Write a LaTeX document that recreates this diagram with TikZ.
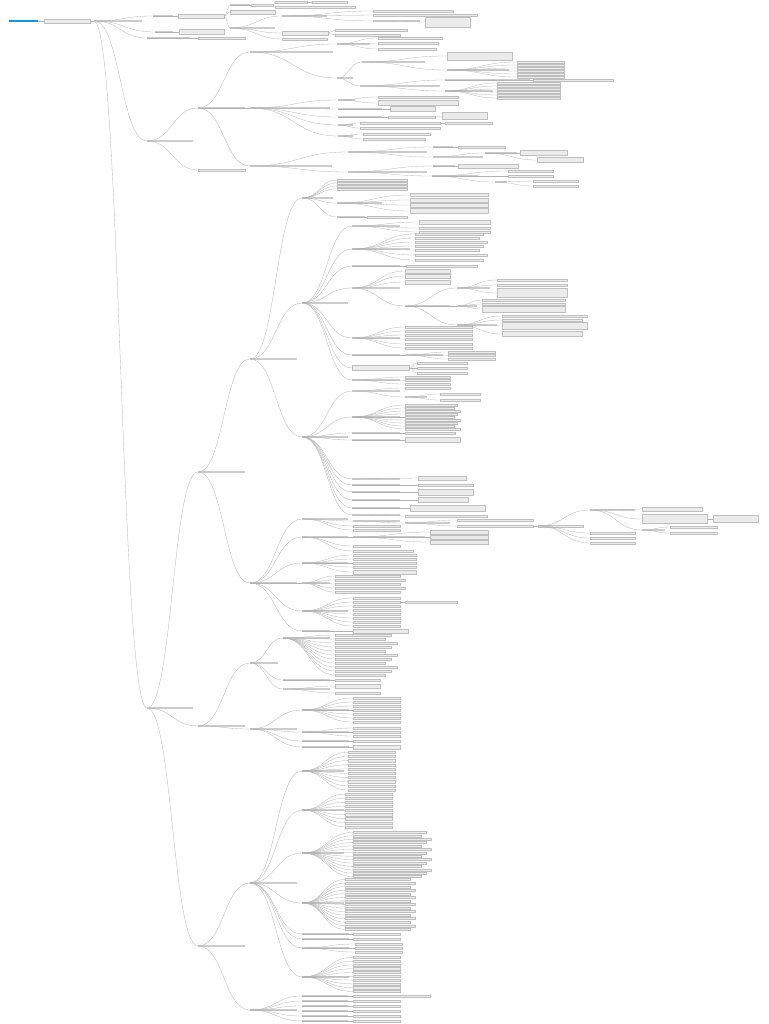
\documentclass[tikz,border=0pt]{standalone}
\usepackage{tikz}
\usetikzlibrary{calc}

\definecolor{rootblue}{RGB}{20,150,220}

\tikzset{
  tnode/.style={rectangle, fill=gray!40, inner sep=0pt, minimum height=1.2pt, anchor=west},
  bnode/.style={rectangle, draw=gray!50, fill=gray!16, line width=0.25pt, inner sep=0pt, minimum height=2.2pt, anchor=west},
  link/.style={draw=gray!60, line width=0.3pt,
    to path={.. controls ($(\tikztostart)!0.5!(\tikztotarget |- \tikztostart)$)
      and ($(\tikztotarget)!0.5!(\tikztostart |- \tikztotarget)$) .. (\tikztotarget)}}
}

\begin{document}
\begin{tikzpicture}[x=1pt, y=-1pt]
\useasboundingbox (0,0) rectangle (768,1024);

% root and hub
\node[rectangle, fill=rootblue, inner sep=0pt, minimum width=29, minimum height=1.8, anchor=west] (root) at (9,21) {};
\node[bnode, minimum width=46, minimum height=4] (hub) at (44,21) {};
\node[tnode, minimum width=48] (main) at (94,21) {};
\draw[link] (root.east) to (hub.west);
\draw[link] (hub.east) to (main.west);

% first level
\node[tnode, minimum width=20] (a) at (153,16) {};
\node[tnode, minimum width=18] (b) at (155,32) {};
\node[tnode, minimum width=43] (c) at (147,38) {};
\node[tnode, minimum width=46] (d) at (147,141) {};
\node[tnode, minimum width=46] (e) at (147,708) {};
\foreach \n in {a,b,c,d,e} \draw[link] (main.west) to (\n.west);

% branch a
\node[bnode, minimum width=46, minimum height=4] (a1) at (178,16) {};
\draw[link] (a.west) to (a1.west);
\node[tnode, minimum width=20] (a11) at (230,5) {};
\node[bnode, minimum width=45, minimum height=4] (a12) at (230,12) {};
\node[tnode, minimum width=45] (a13) at (230,28) {};
\foreach \n in {a11,a12,a13} \draw[link] (a1.east) to (\n.west);
\node[bnode, minimum width=22] (a111) at (251,5) {};
\draw[link] (a11.west) to (a111.west);
\node[bnode, minimum width=32] (a1111) at (275,2) {};
\node[bnode, minimum width=80] (a1112) at (275,7.5) {};
\node[bnode, minimum width=35] (a1113) at (312,2) {};
\draw[link] (a111.east) to (a1111.west);
\draw[link] (a111.east) to (a1112.west);
\draw[link] (a1111.east) to (a1113.west);
\node[tnode, minimum width=45] (a131) at (282,16) {};
\node[bnode, minimum width=46, minimum height=4] (a132) at (282,33) {};
\node[bnode, minimum width=45] (a133) at (282,39) {};
\foreach \n in {a131,a132,a133} \draw[link] (a13.west) to (\n.west);
\node[bnode, minimum width=80] (a1311) at (373,11) {};
\node[bnode, minimum width=104] (a1312) at (373,15) {};
\node[tnode, minimum width=47] (a1313) at (373,21) {};
\foreach \n in {a1311,a1312,a1313} \draw[link] (a131.west) to (\n.west);
\node[bnode, minimum width=45, minimum height=10] (a13131) at (425,22) {};
\draw[link] (a1313.west) to (a13131.west);
\node[bnode, minimum width=72] (a1321) at (335,30) {};
\node[bnode, minimum width=65] (a1322) at (335,35) {};
\draw[link] (a132.east) to (a1321.west);
\draw[link] (a132.east) to (a1322.west);

% branches b and c
\node[bnode, minimum width=45, minimum height=5] (b1) at (179,32) {};
\draw[link] (b.west) to (b1.west);
\node[bnode, minimum width=47] (c1) at (198,38) {};
\draw[link] (c.west) to (c1.west);

% branch d
\node[tnode, minimum width=47] (d1) at (198,108) {};
\node[bnode, minimum width=47] (d2) at (198,170) {};
\draw[link] (d.west) to (d1.west);
\draw[link] (d.west) to (d2.west);
\node[tnode, minimum width=83] (d11) at (250,52) {};
\node[tnode, minimum width=80] (d12) at (250,108) {};
\node[tnode, minimum width=82] (d13) at (250,166) {};
\foreach \n in {d11,d12,d13} \draw[link] (d1.west) to (\n.west);

\node[tnode, minimum width=33] (d111) at (337,44) {};
\node[tnode, minimum width=16] (d112) at (337,78) {};
\draw[link] (d11.west) to (d111.west);
\draw[link] (d11.west) to (d112.west);
\foreach \y/\w [count=\i] in {38/64,43/60,49/58}{
  \node[bnode, minimum width=\w] (d111-\i) at (378,\y) {};
  \draw[link] (d111.west) to (d111-\i.west);
}
\node[tnode, minimum width=63] (d1121) at (362,62) {};
\node[tnode, minimum width=80] (d1122) at (360,86) {};
\draw[link] (d112.west) to (d1121.west);
\draw[link] (d112.west) to (d1122.west);
\node[bnode, minimum width=65, minimum height=8] (d11211) at (447,56) {};
\node[tnode, minimum width=62] (d11212) at (447,70) {};
\draw[link] (d1121.west) to (d11211.west);
\draw[link] (d1121.west) to (d11212.west);
\foreach \y [count=\i] in {62,65,68,71,74,77}{
  \node[bnode, minimum width=47] (d11212-\i) at (517,\y) {};
  \draw[link] (d11212.west) to (d11212-\i.west);
}
\node[tnode, minimum width=85] (d11221) at (445,80) {};
\node[tnode, minimum width=48] (d11222) at (445,91) {};
\draw[link] (d1122.west) to (d11221.west);
\draw[link] (d1122.west) to (d11222.west);
\node[bnode, minimum width=80] (d112211) at (533,80) {};
\draw[link] (d11221.west) to (d112211.west);
\foreach \y [count=\i] in {83,86,89,92,95,98}{
  \node[bnode, minimum width=63] (d11222-\i) at (497,\y) {};
  \draw[link] (d11222.west) to (d11222-\i.west);
}

\node[tnode, minimum width=17] (d121) at (338,100) {};
\node[tnode, minimum width=44] (d122) at (338,109) {};
\node[tnode, minimum width=44] (d123) at (338,117) {};
\node[tnode, minimum width=15] (d124) at (338,125) {};
\node[tnode, minimum width=15] (d125) at (338,136) {};
\foreach \n in {d121,d122,d123,d124,d125} \draw[link] (d12.west) to (\n.west);
\node[bnode, minimum width=80] (d1211) at (378,97) {};
\node[bnode, minimum width=80, minimum height=5] (d1212) at (378,103) {};
\draw[link] (d121.west) to (d1211.west);
\draw[link] (d121.west) to (d1212.west);
\node[bnode, minimum width=45, minimum height=5] (d1221) at (390,109) {};
\draw[link] (d122.west) to (d1221.west);
\node[bnode, minimum width=47] (d1231) at (388,117) {};
\node[bnode, minimum width=45, minimum height=7] (d1232) at (442,116) {};
\draw[link] (d123.west) to (d1231.west);
\draw[link] (d1231.east) to (d1232.west);
\node[bnode, minimum width=80] (d1241) at (360,123) {};
\node[bnode, minimum width=80] (d1242) at (360,128) {};
\node[bnode, minimum width=47] (d1243) at (445,123) {};
\draw[link] (d124.west) to (d1241.west);
\draw[link] (d124.west) to (d1242.west);
\draw[link] (d1241.east) to (d1243.west);
\node[bnode, minimum width=67] (d1251) at (363,134) {};
\node[bnode, minimum width=62] (d1252) at (363,139) {};
\draw[link] (d125.west) to (d1251.west);
\draw[link] (d125.west) to (d1252.west);

\node[tnode, minimum width=79] (d131) at (348,152) {};
\node[tnode, minimum width=79] (d132) at (348,172) {};
\draw[link] (d13.west) to (d131.west);
\draw[link] (d13.west) to (d132.west);
\node[tnode, minimum width=20] (d1311) at (433,147) {};
\node[tnode, minimum width=50] (d1312) at (433,157) {};
\draw[link] (d131.west) to (d1311.west);
\draw[link] (d131.west) to (d1312.west);
\node[bnode, minimum width=47] (d13111) at (458,147) {};
\draw[link] (d1311.west) to (d13111.west);
\node[tnode, minimum width=32] (d13121) at (485,153) {};
\draw[link] (d1312.west) to (d13121.west);
\node[bnode, minimum width=47, minimum height=5] (d131211) at (520,153) {};
\node[bnode, minimum width=46, minimum height=5] (d131212) at (537,160) {};
\draw[link] (d13121.west) to (d131211.west);
\draw[link] (d13121.west) to (d131212.west);
\node[tnode, minimum width=22] (d1321) at (433,166) {};
\node[tnode, minimum width=46] (d1322) at (432,176) {};
\draw[link] (d132.west) to (d1321.west);
\draw[link] (d132.west) to (d1322.west);
\node[bnode, minimum width=60, minimum height=4] (d13211) at (458,166) {};
\draw[link] (d1321.west) to (d13211.west);
\node[bnode, minimum width=45] (d13221) at (508,171) {};
\node[bnode, minimum width=45] (d13222) at (508,176) {};
\node[tnode, minimum width=12] (d13223) at (495,182) {};
\foreach \n in {d13221,d13222,d13223} \draw[link] (d1322.west) to (\n.west);
\node[bnode, minimum width=45] (d132231) at (533,181) {};
\node[bnode, minimum width=45] (d132232) at (533,186) {};
\draw[link] (d13223.west) to (d132231.west);
\draw[link] (d13223.west) to (d132232.west);

% branch e
\node[tnode, minimum width=47] (e1) at (198,472) {};
\node[tnode, minimum width=47] (e2) at (198,726) {};
\node[tnode, minimum width=47] (e3) at (198,946) {};
\foreach \n in {e1,e2,e3} \draw[link] (e.west) to (\n.west);
\node[tnode, minimum width=47] (e11) at (250,359) {};
\node[tnode, minimum width=47] (e12) at (250,583) {};
\draw[link] (e1.west) to (e11.west);
\draw[link] (e1.west) to (e12.west);

\node[tnode, minimum width=31] (e111) at (302,198) {};
\node[tnode, minimum width=46] (e112) at (302,303) {};
\node[tnode, minimum width=46] (e113) at (302,437) {};
\foreach \n in {e111,e112,e113} \draw[link] (e11.west) to (\n.west);

\foreach \y [count=\i] in {180,183,186,189}{
  \node[bnode, minimum width=70] (e111-\i) at (337,\y) {};
  \draw[link] (e111.west) to (e111-\i.west);
}
\node[tnode, minimum width=45] (e1115) at (337,203) {};
\node[tnode, minimum width=28] (e1116) at (337,217) {};
\draw[link] (e111.west) to (e1115.west);
\draw[link] (e111.west) to (e1116.west);
\foreach \y/\h [count=\i] in {195/3,200/3.5,205/3.5,211/5}{
  \node[bnode, minimum width=78, minimum height=\h] (e1115-\i) at (410,\y) {};
  \draw[link] (e1115.west) to (e1115-\i.west);
}
\node[bnode, minimum width=40] (e11161) at (367,217) {};
\draw[link] (e1116.west) to (e11161.west);

% e112 children
\foreach \n/\y/\w in {f1/226/48,f2/249/58,f3/266/48,f4/288/48,f5/338/48,f6/355/48,f8/380/48}{
  \node[tnode, minimum width=\w] (\n) at (352,\y) {};
  \draw[link] (e112.west) to (\n.west);
}
\node[bnode, minimum width=57, minimum height=5] (f7) at (352,368) {};
\draw[link] (e112.west) to (f7.west);
\foreach \y/\h [count=\i] in {222/4.5,228/2.2,232/2.2}{
  \node[bnode, minimum width=71, minimum height=\h] (f1-\i) at (419,\y) {};
  \draw[link] (f1.west) to (f1-\i.west);
}
\foreach \y [count=\i] in {234,238,242,246,250,255,260}{
  \pgfmathsetmacro\lw{72-4*mod(\i,3)}
  \node[bnode, minimum width=\lw] (f2-\i) at (415,\y) {};
  \draw[link] (f2.west) to (f2-\i.west);
}
\node[bnode, minimum width=71] (f31) at (406,266) {};
\draw[link] (f3.west) to (f31.west);
\foreach \y [count=\i] in {271,276,282}{
  \node[bnode, minimum width=45, minimum height=4] (f4-\i) at (405,\y) {};
  \draw[link] (f4.west) to (f4-\i.west);
}
\node[tnode, minimum width=45] (g) at (405,306) {};
\draw[link] (f4.west) to (g.west);
\node[tnode, minimum width=33] (g1) at (457,288) {};
\node[tnode, minimum width=20] (g2) at (457,306) {};
\node[tnode, minimum width=40] (g3) at (457,325) {};
\foreach \n in {g1,g2,g3} \draw[link] (g.west) to (\n.west);
\foreach \y/\h [count=\i] in {280/2.5,285/2.5,293/9}{
  \node[bnode, minimum width=70, minimum height=\h] (g1-\i) at (497,\y) {};
  \draw[link] (g1.west) to (g1-\i.west);
}
\foreach \y/\h [count=\i] in {300/2.5,304/2.5,309/6}{
  \node[bnode, minimum width=83, minimum height=\h] (g2-\i) at (482,\y) {};
  \draw[link] (g2.west) to (g2-\i.west);
}
\foreach \y/\h/\w [count=\i] in {316/2.5/85,320/2.5/80,326/7/85,334/5/80}{
  \node[bnode, minimum width=\w, minimum height=\h] (g3-\i) at (502,\y) {};
  \draw[link] (g3.west) to (g3-\i.west);
}
\foreach \y [count=\i] in {327,331,335,339,344,348}{
  \node[bnode, minimum width=67] (f5-\i) at (405,\y) {};
  \draw[link] (f5.west) to (f5-\i.west);
}
\node[tnode, minimum width=38] (f61) at (405,355) {};
\draw[link] (f6.west) to (f61.west);
\foreach \y [count=\i] in {352,355.5,359}{
  \node[bnode, minimum width=47] (f61-\i) at (448,\y) {};
  \draw[link] (f61.west) to (f61-\i.west);
}
\foreach \y [count=\i] in {363,368,373}{
  \node[bnode, minimum width=50] (f7-\i) at (417,\y) {};
  \draw[link] (f7.east) to (f7-\i.west);
}
\foreach \y [count=\i] in {377,380.5,384}{
  \node[bnode, minimum width=45] (f8-\i) at (405,\y) {};
  \draw[link] (f8.west) to (f8-\i.west);
}

% e113 children
\foreach \n/\y in {h1/391,h2/417,h3/433,h4/440,h5/479,h6/485,h7/492,h8/500,h9/508,h10/515}{
  \node[tnode, minimum width=48] (\n) at (352,\y) {};
  \draw[link] (e113.west) to (\n.west);
}
\node[bnode, minimum width=45] (h11) at (405,388) {};
\node[tnode, minimum width=22] (h12) at (405,397) {};
\draw[link] (h1.west) to (h11.west);
\draw[link] (h1.west) to (h12.west);
\node[bnode, minimum width=40] (h121) at (440,394) {};
\node[bnode, minimum width=40] (h122) at (440,400) {};
\draw[link] (h12.west) to (h121.west);
\draw[link] (h12.west) to (h122.west);
\foreach \y [count=\i] in {405,408,411,414,417,420,423,426,429}{
  \pgfmathsetmacro\lw{55-3*mod(\i,3)}
  \node[bnode, minimum width=\lw, minimum height=2] (h2-\i) at (405,\y) {};
  \draw[link] (h2.west) to (h2-\i.west);
}
\node[bnode, minimum width=50] (h31) at (405,433) {};
\draw[link] (h3.west) to (h31.west);
\node[bnode, minimum width=55, minimum height=5] (h41) at (405,440) {};
\draw[link] (h4.west) to (h41.west);
\foreach \n/\x/\y/\w/\h in {h5/418/478/48/4,h6/418/485/55/2.5,h7/418/492/55/6,h8/418/500/50/5,h9/410/508/75/6,h10/405/516/82/2.5}{
  \node[bnode, minimum width=\w, minimum height=\h] (\n-1) at (\x,\y) {};
  \draw[link] (\n.west) to (\n-1.west);
}

% e12 children
\foreach \n/\y/\w in {k1/519/46,k2/537/46,k3/563/46,k4/583/28,k5/611/46,k6/631/28}{
  \node[tnode, minimum width=\w] (\n) at (302,\y) {};
  \draw[link] (e12.west) to (\n.west);
}
\node[tnode, minimum width=47] (k11) at (353,521) {};
\node[bnode, minimum width=47] (k12) at (353,526) {};
\node[bnode, minimum width=47] (k13) at (353,530) {};
\foreach \n in {k11,k12,k13} \draw[link] (k1.west) to (\n.west);
\node[tnode, minimum width=45] (k111) at (405,523) {};
\draw[link] (k11.west) to (k111.west);
\node[bnode, minimum width=76] (k1111) at (457,520) {};
\node[bnode, minimum width=76] (k1112) at (457,526) {};
\draw[link] (k111.west) to (k1111.west);
\draw[link] (k111.west) to (k1112.west);
\node[bnode, minimum width=45] (m) at (538,526) {};
\draw[link] (k1112.east) to (m.west);
\node[tnode, minimum width=45] (m1) at (590,510) {};
\draw[link] (m.west) to (m1.west);
\foreach \y [count=\i] in {533,538,543}{
  \node[bnode, minimum width=45] (m-\i) at (590,\y) {};
  \draw[link] (m.west) to (m-\i.west);
}
\node[bnode, minimum width=60, minimum height=4] (m11) at (642,509) {};
\node[bnode, minimum width=65, minimum height=9] (m12) at (642,519) {};
\node[tnode, minimum width=23] (m13) at (642,530) {};
\foreach \n in {m11,m12,m13} \draw[link] (m1.west) to (\n.west);
\node[bnode, minimum width=45, minimum height=7] (m121) at (713,519) {};
\draw[link] (m12.east) to (m121.west);
\node[bnode, minimum width=47] (m131) at (670,527) {};
\node[bnode, minimum width=47] (m132) at (670,533) {};
\draw[link] (m13.west) to (m131.west);
\draw[link] (m13.west) to (m132.west);

\node[tnode, minimum width=72] (k21) at (353,537) {};
\node[bnode, minimum width=47] (k22) at (353,546) {};
\node[bnode, minimum width=60] (k23) at (353,551) {};
\foreach \n in {k21,k22,k23} \draw[link] (k2.west) to (\n.west);
\foreach \y [count=\i] in {532,537,542}{
  \node[bnode, minimum width=58, minimum height=3.5] (k21-\i) at (430,\y) {};
  \draw[link] (k21.west) to (k21-\i.west);
}
\foreach \y/\h [count=\i] in {555/2.2,559/2.2,563/2.2,567/2.2,572/4.5}{
  \node[bnode, minimum width=63, minimum height=\h] (k3-\i) at (353,\y) {};
  \draw[link] (k3.west) to (k3-\i.west);
}
\foreach \y [count=\i] in {576,580,584,588,592}{
  \pgfmathsetmacro\lw{70-5*mod(\i,2)}
  \node[bnode, minimum width=\lw] (k4-\i) at (335,\y) {};
  \draw[link] (k4.west) to (k4-\i.west);
}
\foreach \y [count=\i] in {598,602,606,610,614,618,622,626}{
  \node[bnode, minimum width=47] (k5-\i) at (353,\y) {};
  \draw[link] (k5.west) to (k5-\i.west);
}
\node[bnode, minimum width=52] (k521) at (405,602) {};
\draw[link] (k5-2.east) to (k521.west);
\node[bnode, minimum width=55, minimum height=4.5] (k61) at (353,631) {};
\draw[link] (k6.west) to (k61.west);

% e2 children
\node[tnode, minimum width=28] (n1) at (250,663) {};
\node[tnode, minimum width=47] (n2) at (250,729) {};
\draw[link] (e2.west) to (n1.west);
\draw[link] (e2.west) to (n2.west);
\node[tnode, minimum width=47] (n11) at (283,638) {};
\node[tnode, minimum width=47] (n12) at (283,680) {};
\node[tnode, minimum width=47] (n13) at (283,689) {};
\foreach \n in {n11,n12,n13} \draw[link] (n1.west) to (\n.west);
\foreach \y [count=\i] in {635,639,643,647,651,655,659,663,667,671,675}{
  \pgfmathsetmacro\lw{62-6*mod(\i,3)}
  \node[bnode, minimum width=\lw] (n11-\i) at (335,\y) {};
  \draw[link] (n11.west) to (n11-\i.west);
}
\node[bnode, minimum width=45] (n121) at (335,680) {};
\draw[link] (n12.west) to (n121.west);
\node[bnode, minimum width=45, minimum height=4.5] (n131) at (335,686) {};
\node[bnode, minimum width=45] (n132) at (335,693) {};
\draw[link] (n13.west) to (n131.west);
\draw[link] (n13.west) to (n132.west);
\node[tnode, minimum width=47] (n21) at (302,710) {};
\node[tnode, minimum width=47] (n22) at (302,732) {};
\node[tnode, minimum width=47] (n23) at (302,741) {};
\node[tnode, minimum width=47] (n24) at (302,747) {};
\foreach \n in {n21,n22,n23,n24} \draw[link] (n2.west) to (\n.west);
\foreach \y [count=\i] in {698,702,706,710,714,718,722}{
  \node[bnode, minimum width=47] (n21-\i) at (353,\y) {};
  \draw[link] (n21.west) to (n21-\i.west);
}
\foreach \y [count=\i] in {728,732,736}{
  \node[bnode, minimum width=47] (n22-\i) at (353,\y) {};
  \draw[link] (n22.west) to (n22-\i.west);
}
\node[bnode, minimum width=47] (n231) at (353,741) {};
\draw[link] (n23.west) to (n231.west);
\node[bnode, minimum width=47, minimum height=3.5] (n241) at (353,747) {};
\draw[link] (n24.west) to (n241.west);

% e3 children
\node[tnode, minimum width=47] (p1) at (250,883) {};
\node[tnode, minimum width=47] (p2) at (250,1010) {};
\draw[link] (e3.west) to (p1.west);
\draw[link] (e3.west) to (p2.west);
\foreach \n/\y/\w in {p11/771/42,p12/810/42,p13/853/42,p14/903/42,p15/934/47,p16/939/47,p17/948/47,p18/977/47}{
  \node[tnode, minimum width=\w] (\n) at (302,\y) {};
  \draw[link] (p1.west) to (\n.west);
}
\foreach \i in {1,...,10}{
  \node[bnode, minimum width=47] (p11-\i) at (348,{748+4.2*\i}) {};
  \draw[link] (p11.west) to (p11-\i.west);
}
\foreach \i in {1,...,9}{
  \node[bnode, minimum width=47] (p12-\i) at (345,{790+4.1*\i}) {};
  \draw[link] (p12.west) to (p12-\i.west);
}
\foreach \i in {1,...,14}{
  \pgfmathsetmacro\lw{78-5*mod(\i,3)}
  \node[bnode, minimum width=\lw, minimum height=2] (p13-\i) at (353,{829+3.4*\i}) {};
  \draw[link] (p13.west) to (p13-\i.west);
}
\foreach \i in {1,...,15}{
  \pgfmathsetmacro\lw{70-5*mod(\i,2)}
  \node[bnode, minimum width=\lw, minimum height=2] (p14-\i) at (345,{876+3.55*\i}) {};
  \draw[link] (p14.west) to (p14-\i.west);
}
\node[bnode, minimum width=47] (p151) at (353,934) {};
\draw[link] (p15.west) to (p151.west);
\node[bnode, minimum width=47] (p161) at (353,939) {};
\draw[link] (p16.west) to (p161.west);
\foreach \y [count=\i] in {944,948,952}{
  \node[bnode, minimum width=47] (p17-\i) at (355,\y) {};
  \draw[link] (p17.west) to (p17-\i.west);
}
\foreach \i in {1,...,10}{
  \node[bnode, minimum width=47] (p18-\i) at (353,{953.5+3.8*\i}) {};
  \draw[link] (p18.west) to (p18-\i.west);
}
\foreach \y/\w [count=\i] in {996/77,1001/47,1006/47,1011/47,1016/47,1021/47}{
  \node[tnode, minimum width=46] (q\i) at (302,\y) {};
  \node[bnode, minimum width=\w] (q\i-1) at (353,\y) {};
  \draw[link] (p2.west) to (q\i.west);
  \draw[link] (q\i.west) to (q\i-1.west);
}
\end{tikzpicture}
\end{document}
